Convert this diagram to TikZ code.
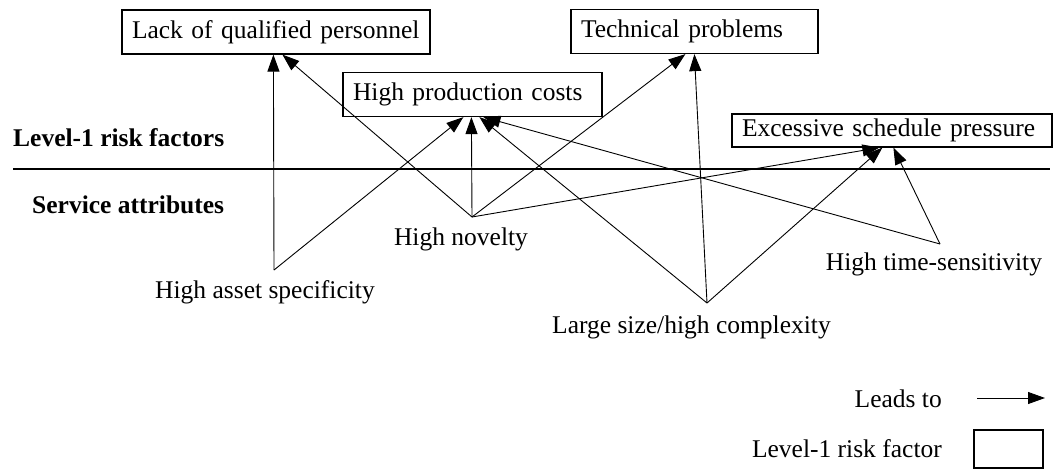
\documentclass[tikz,border=0pt]{standalone}
\usepackage{fontspec}
\setmainfont{Liberation Serif}
\usetikzlibrary{arrows.meta,calc}
\begin{document}
\begin{tikzpicture}[x=1pt,y=-1pt,
  every node/.style={font=\fontsize{25.5pt}{30pt}\selectfont, inner sep=0pt},
  riskbox/.style={draw, line width=1.2pt, inner xsep=10pt, align=left, minimum height=44pt},
  heading/.style={font=\fontsize{25.5pt}{30pt}\selectfont\bfseries},
  link/.style={line width=0.9pt, -{Triangle[length=17pt,width=12pt]}},
]
\useasboundingbox (0,0) rectangle (1053,469);

% Level-1 risk factors
\node[riskbox, text width=288pt] (lack) at (276,32) {Lack of qualified personnel};
\node[riskbox, text width=227pt] (tech) at (694.5,31.5) {Technical problems};
\node[riskbox, text width=239pt] (cost) at (472.5,94.5) {High production costs};
\node[riskbox, text width=300pt, minimum height=33pt] (sched) at (892,130.5) {Excessive schedule pressure};

% Level headings and divider
\node[heading, anchor=base west] (lvl) at (13,146) {Level-1 risk factors};
\node[heading, anchor=base west] (svc) at (32,213) {Service attributes};
\coordinate (divL) at (13,169);
\coordinate (divR) at (1050,169);
\draw[line width=1.5pt] (divL) -- (divR);

% Service attributes
\coordinate (asset) at (274,270);
\coordinate (novelty) at (472,217);
\coordinate (large) at (707,303);
\coordinate (time) at (940,244);
\node[anchor=base] (assetlbl) at (265,298) {High asset specificity};
\node[anchor=base] (noveltylbl) at (461,245) {High novelty};
\node[anchor=base west] (largelbl) at (552,333) {Large size/high complexity};
\node[anchor=base] (timelbl) at (934,270) {High time-sensitivity};

% Influences
\draw[link] (asset) -- ($(lack.south west)+(152,0)$);
\draw[link] (novelty) -- ($(lack.south west)+(161,0)$);
\draw[link] (asset) -- ($(cost.south west)+(121,0)$);
\draw[link] (novelty) -- ($(cost.south west)+(129,0)$);
\draw[link] (large) -- ($(cost.south west)+(137,0)$);
\draw[link] (time) -- ($(cost.south west)+(141,0)$);
\draw[link] (novelty) -- ($(tech.south west)+(115,0)$);
\draw[link] (large) -- ($(tech.south west)+(124,0)$);
\draw[link] (novelty) -- ($(sched.south west)+(148,0)$);
\draw[link] (large) -- ($(sched.south west)+(151,0)$);
\draw[link] (time) -- ($(sched.south west)+(162,0)$);

% Legend
\node[anchor=base east] (leadslbl) at (942,407) {Leads to};
\coordinate (legA) at (977,398);
\coordinate (legB) at (1045,398);
\draw[link] (legA) -- (legB);
\node[anchor=base east] (boxlbl) at (942,457) {Level-1 risk factor};
\node[draw, line width=1.2pt, minimum width=69pt, minimum height=38pt] (legbox) at (1008.5,449) {};
\end{tikzpicture}
\end{document}
